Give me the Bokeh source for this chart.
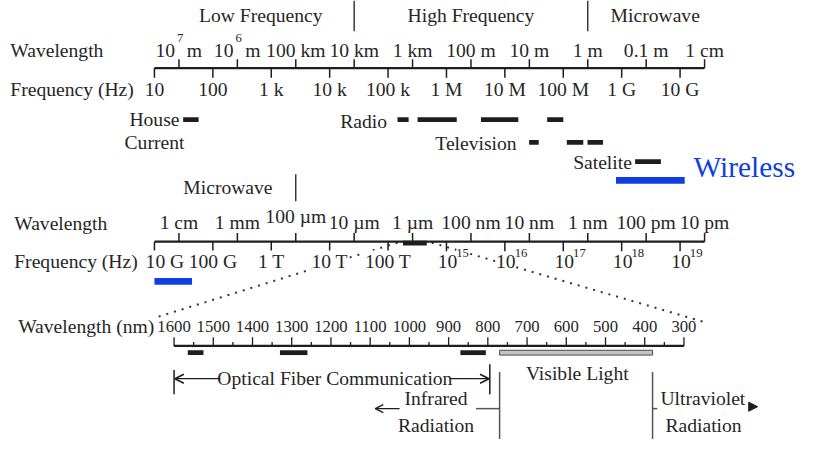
import math
from bokeh.plotting import figure
from bokeh.models import Range1d, LogScale, LinearScale, Arrow, OpenHead, NormalHead
from bokeh.core.properties import value
from bokeh.embed import file_html
from bokeh.resources import INLINE

# ---------------- data ----------------
# Row 1 : radio range
row1_freq_hz = [1e1, 1e2, 1e3, 1e4, 1e5, 1e6, 1e7, 1e8, 1e9, 1e10]
row1_freq_labels = ["10", "100", "1 k", "10 k", "100 k", "1 M", "10 M", "100 M", "1 G", "10 G"]
row1_wl_m = [1e7, 1e6, 1e5, 1e4, 1e3, 1e2, 1e1, 1.0, 0.1, 0.01]
row1_wl_labels = ["10^7 m", "10^6 m", "100 km", "10 km", "1 km", "100 m", "10 m", "1 m", "0.1 m", "1 cm"]
row1_regions = ["Low Frequency", "High Frequency", "Microwave"]
row1_region_centers_m = [10 ** 5.6, 100.0, 0.07]
row1_region_bounds_m = [1e4, 1.0]
house_hz = [(31, 57)]
radio_hz = [(1.45e5, 2.25e5), (3.2e5, 1.5e6), (3.9e6, 1.7e7), (5.3e7, 1.0e8)]
tv_hz = [(2.6e7, 3.8e7), (1.15e8, 2.2e8), (2.6e8, 4.8e8)]
satellite_hz = [(1.7e9, 4.7e9)]
wireless1_hz = [(8.0e8, 1.2e10)]

# Row 2 : microwave to X-ray
row2_freq_hz = [1e10, 1e11, 1e12, 1e13, 1e14, 1e15, 1e16, 1e17, 1e18, 1e19]
row2_freq_labels = ["10 G", "100 G", "1 T", "10 T", "100 T", "10^15", "10^16", "10^17", "10^18", "10^19"]
row2_wl_m = [1e-2, 1e-3, 1e-4, 1e-5, 1e-6, 1e-7, 1e-8, 1e-9, 1e-10, 1e-11]
row2_wl_labels = ["1 cm", "1 mm", "100 \u00b5m", "10 \u00b5m", "1 \u00b5m", "100 nm", "10 nm", "1 nm", "100 pm", "10 pm"]
row2_region = "Microwave"
row2_region_center_m = 1.45e-3
row2_region_bound_m = 1e-4
wireless2_hz = [(1.0e10, 4.4e10)]
optical2_hz = [(1.8e14, 4.6e14)]
zoom_link_hz = [1.45e14, 5.6e14]

# Row 3 : optical detail in nm
nm_major = [1600, 1500, 1400, 1300, 1200, 1100, 1000, 900, 800, 700, 600, 500, 400, 300]
nm_minor = [1550, 1450, 1350, 1250, 1150, 1050, 950, 850, 750, 650, 550, 450, 350]
fiber_nm = [(1525, 1565), (1260, 1330), (805, 870)]
visible_nm = (380, 770)
zoom_link_nm = [1650, 250]
fiber_span_nm = (1600, 795)

# ---------------- layout ----------------
W, H = 807, 439          # canvas size (fits the window)
X0, X1 = 0, 823          # layout units (reference pixels)
YTOP, YBOT = 0, 455
S = W / 823.0            # layout unit -> screen px
DEC = 59.56              # layout units per decade on the log rows
NM_PX = 0.4              # layout units per nm on the optical row
F1_ANCHOR = (10.0, 157)
W1_ANCHOR = (1e7, 182)
F2_ANCHOR = (1e10, 157)
W2_ANCHOR = (1e-2, 182)
NM_ANCHOR = (1600, 177)

FONT = "Liberation Serif"
INK = "#1e1e1e"
TXT = "#262626"
BLUE = "#0f3fe0"


def fs(px):
    return "%.1fpx" % (px * S)


MAIN = fs(20)
EXP = fs(13)
NMS = fs(17)


def log_range(anchor, per_dec):
    v0, x0 = anchor
    lv = math.log10(v0)
    return Range1d(start=10 ** (lv - (x0 - X0) / per_dec), end=10 ** (lv + (X1 - x0) / per_dec))


def px_log(v, anchor, per_dec):
    return anchor[1] + per_dec * (math.log10(v) - math.log10(anchor[0]))


def px_nm(v):
    return NM_ANCHOR[1] + (NM_ANCHOR[0] - v) * NM_PX


p = figure(width=W, height=H, x_range=Range1d(X0, X1), y_range=Range1d(YBOT, YTOP),
           output_backend="svg", toolbar_location=None, min_border=0,
           x_axis_type=None, y_axis_type=None, background_fill_color="white",
           border_fill_color="white")
p.outline_line_color = None
p.xgrid.visible = False
p.ygrid.visible = False

p.extra_x_ranges = {
    "f1": log_range(F1_ANCHOR, DEC),
    "w1": log_range(W1_ANCHOR, -DEC),
    "f2": log_range(F2_ANCHOR, DEC),
    "w2": log_range(W2_ANCHOR, -DEC),
    "nm": Range1d(start=NM_ANCHOR[0] + (NM_ANCHOR[1] - X0) / NM_PX,
                  end=NM_ANCHOR[0] - (X1 - NM_ANCHOR[1]) / NM_PX),
}
p.extra_x_scales = {"f1": LogScale(), "w1": LogScale(), "f2": LogScale(),
                    "w2": LogScale(), "nm": LinearScale()}


def txt(xs, ys, texts, rng="default", size=MAIN, align="center", color=TXT,
        xoff=0, yoff=0, bg=None):
    kw = dict(x=xs, y=ys, text=texts, text_font=value(FONT), text_font_size=value(size),
              text_align=align, text_baseline="middle", text_color=color,
              x_offset=xoff * S, y_offset=yoff * S)
    if rng != "default":
        kw["x_range_name"] = rng
    if bg:
        kw["background_fill_color"] = bg
    p.text(**kw)


def seg(x0, y0, x1, y1, rng="default", color=INK, width=1.5, dash="solid"):
    kw = dict(x0=x0, y0=y0, x1=x1, y1=y1, line_color=color, line_width=width, line_dash=dash)
    if rng != "default":
        kw["x_range_name"] = rng
    p.segment(**kw)


def bars(ranges, y, h, rng, color=INK, line=None):
    kw = dict(y=[y] * len(ranges), left=[a for a, b in ranges], right=[b for a, b in ranges],
              height=h, fill_color=color, line_color=line, x_range_name=rng)
    p.hbar(**kw)


def split_labels(labels):
    plain, exps = [], []
    for i, lab in enumerate(labels):
        if "^" in lab:
            base, rest = lab.split("^")
            parts = rest.split(" ", 1)
            exps.append((i, base, parts[0], parts[1] if len(parts) > 1 else ""))
        else:
            plain.append((i, lab))
    return plain, exps


# ---------- dotted zoom links (drawn first, labels mask them) ----------
link_y_top = 251
link_y_bot = [329, 333]
for fz, nz, yb in zip(zoom_link_hz, zoom_link_nm, link_y_bot):
    seg([px_log(fz, F2_ANCHOR, DEC)], [link_y_top], [px_nm(nz)], [yb],
        color="#333333", width=2, dash="2 6")

# ---------------- Row 1 ----------------
AX1 = 70
seg([px_log(row1_freq_hz[0], F1_ANCHOR, DEC)], [AX1], [px_log(row1_wl_m[-1], W1_ANCHOR, -DEC)], [AX1], width=2.2)
seg(row1_wl_m, [AX1 - 9] * 10, row1_wl_m, [AX1] * 10, rng="w1")
seg(row1_freq_hz, [AX1] * 10, row1_freq_hz, [AX1 + 10] * 10, rng="f1")

pl, ex = split_labels(row1_wl_labels)
txt([row1_wl_m[i] for i, _ in pl], [52] * len(pl), [t for _, t in pl], rng="w1")
txt([row1_wl_m[i] for i, *_ in ex], [52] * len(ex), [b for _, b, _, _ in ex], rng="w1", align="right", xoff=-4)
txt([row1_wl_m[i] for i, *_ in ex], [39] * len(ex), [e for _, _, e, _ in ex], rng="w1", align="left", xoff=-2, size=EXP)
txt([row1_wl_m[i] for i, *_ in ex], [52] * len(ex), [s for *_, s in ex], rng="w1", align="left", xoff=8)
txt(row1_freq_hz, [92] * 10, row1_freq_labels, rng="f1")

txt(row1_region_centers_m, [16] * 3, row1_regions, rng="w1")
seg(row1_region_bounds_m, [0] * 2, row1_region_bounds_m, [32] * 2, rng="w1", width=1.3)

bars(house_hz, 123.5, 5, "f1")
bars(radio_hz, 123.5, 5, "f1")
bars(tv_hz, 147, 5, "f1")
bars(satellite_hz, 167, 5, "f1")
bars(wireless1_hz, 186.5, 7, "f1", color=BLUE)

txt([10.0], [123], ["House"], rng="f1")
txt([10.0], [147], ["Current"], rng="f1")
txt([1.0e5], [125], ["Radio"], rng="f1", align="right", xoff=-1)
txt([3.2e6], [148], ["Television"], rng="f1")
txt([4.7e8], [168], ["Satelite"], rng="f1")
txt([1.7e10], [173], ["Wireless"], rng="f1", align="left", size=fs(30), color=BLUE)

# ---------------- Row 2 ----------------
AX2 = 250
txt([row2_region_center_m], [194], [row2_region], rng="w2")
seg([row2_region_bound_m], [180], [row2_region_bound_m], [208], rng="w2", width=1.3)

seg([px_log(row2_freq_hz[0], F2_ANCHOR, DEC)], [AX2], [px_log(row2_wl_m[-1], W2_ANCHOR, -DEC)], [AX2], width=2.2)
seg(row2_wl_m, [AX2 - 9] * 10, row2_wl_m, [AX2] * 10, rng="w2")
seg(row2_freq_hz, [AX2] * 10, row2_freq_hz, [AX2 + 10] * 10, rng="f2")
bars(optical2_hz, 251.5, 5, "f2")

txt(row2_wl_m[:2] + row2_wl_m[3:], [230] * 9, row2_wl_labels[:2] + row2_wl_labels[3:], rng="w2")
txt([row2_wl_m[2]], [224], [row2_wl_labels[2]], rng="w2")
pl, ex = split_labels(row2_freq_labels)
# first label sits just right of the axis start
txt([row2_freq_hz[pl[0][0]]], [270], [pl[0][1]], rng="f2", align="left", xoff=-9, bg="white")
txt([row2_freq_hz[i] for i, _ in pl[1:]], [270] * (len(pl) - 1), [t for _, t in pl[1:]], rng="f2", bg="white")
txt([row2_freq_hz[i] for i, *_ in ex], [270] * len(ex), [b for _, b, _, _ in ex], rng="f2", xoff=1, bg="white")
txt([row2_freq_hz[i] for i, *_ in ex], [262] * len(ex), [e for _, _, e, _ in ex], rng="f2", align="left", xoff=10, size=EXP, bg="white")

bars(wireless2_hz, 291, 7, "f2", color=BLUE)

# ---------------- Row 3 (nm) ----------------
AX3 = 358
seg([nm_major[0]], [AX3], [nm_major[-1]], [AX3], rng="nm", width=2.2)
seg(nm_major, [AX3 - 9] * len(nm_major), nm_major, [AX3] * len(nm_major), rng="nm", width=1.3)
seg(nm_minor, [AX3 - 4] * len(nm_minor), nm_minor, [AX3] * len(nm_minor), rng="nm", width=1.3)
txt(nm_major, [338] * len(nm_major), [str(v) for v in nm_major], rng="nm", size=NMS)

bars(fiber_nm, 365, 5, "nm")
bars([visible_nm], 365, 5, "nm", color="#c4c4c4", line="#4a4a4a")

# optical fibre span
seg([fiber_span_nm[0]], [383], [fiber_span_nm[0]], [408], rng="nm")
seg([fiber_span_nm[1]], [377], [fiber_span_nm[1]], [408], rng="nm")
txt([1190], [392], ["Optical Fiber Communication"], rng="nm")
p.add_layout(Arrow(end=OpenHead(size=9, line_width=1.5, line_color=INK), x_start=1482, y_start=392,
                   x_end=1598, y_end=392, line_width=1.3, line_color=INK, x_range_name="nm"))
p.add_layout(Arrow(end=OpenHead(size=9, line_width=1.5, line_color=INK), x_start=897, y_start=392,
                   x_end=797, y_end=392, line_width=1.3, line_color=INK, x_range_name="nm"))

# visible / infrared / ultraviolet
txt([572], [387], ["Visible Light"], rng="nm")
seg([visible_nm[1], visible_nm[0]], [385, 385], [visible_nm[1], visible_nm[0]], [460, 460], rng="nm", color="#555555", width=1.5)
seg([830, visible_nm[0]], [423, 423], [visible_nm[1], 368], [423, 423], rng="nm", color="#555555", width=1.5)
txt([932], [413], ["Infrared"], rng="nm")
txt([932], [440], ["Radiation"], rng="nm")
p.add_layout(Arrow(end=OpenHead(size=8, line_width=1.5, line_color=INK), x_start=1025, y_start=423,
                   x_end=1087, y_end=423, line_width=1.3, line_color=INK, x_range_name="nm"))
txt([360], [413], ["Ultraviolet"], rng="nm", align="left")
txt([250], [440], ["Radiation"], rng="nm")
p.add_layout(Arrow(end=NormalHead(size=9, fill_color=INK, line_color=INK), x_start=140, y_start=421,
                   x_end=112, y_end=421, line_width=0, line_alpha=0, x_range_name="nm"))

# ---------------- row titles ----------------
txt([10, 10], [52, 92], ["Wavelength", "Frequency (Hz)"], align="left")
txt([14, 14], [231, 271], ["Wavelength", "Frequency (Hz)"], align="left")
txt([18], [338], ["Wavelength (nm)"], align="left")

open("out.html", "w").write(file_html(p, INLINE))
